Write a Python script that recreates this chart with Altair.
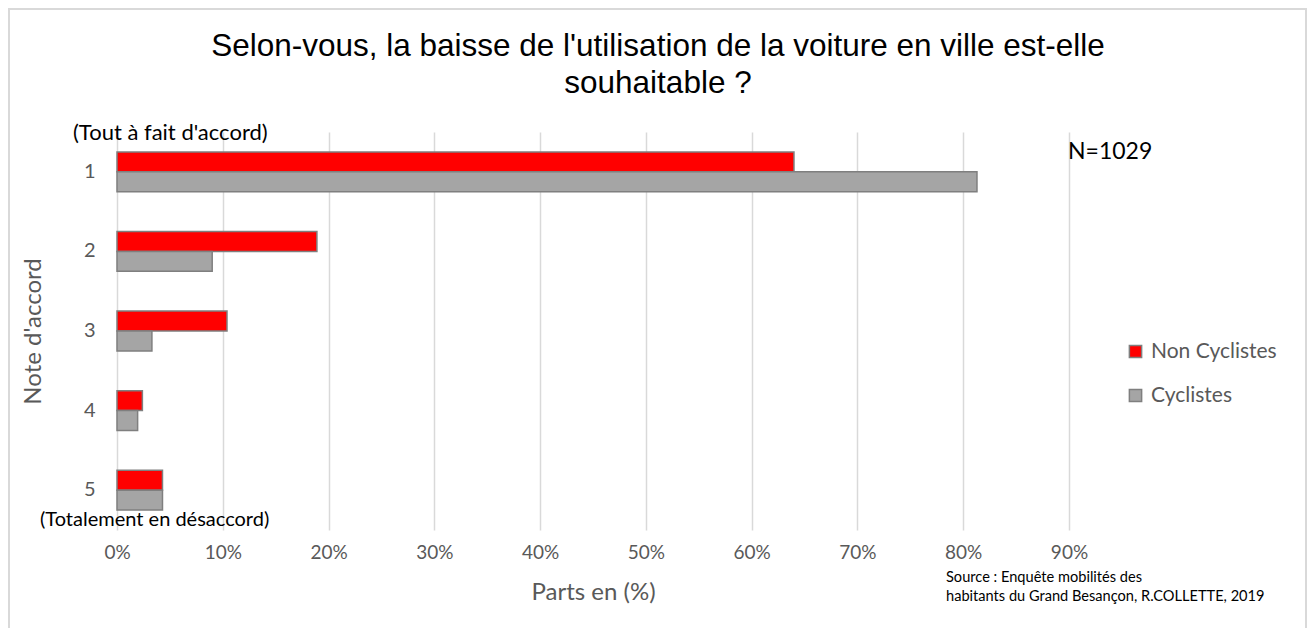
import altair as alt
import pandas as pd

notes = ["1", "2", "3", "4", "5"]
non_cyclistes = [64.0, 18.9, 10.4, 2.4, 4.3]
cyclistes = [81.3, 9.0, 3.3, 1.95, 4.3]
series = ["Non Cyclistes", "Cyclistes"]
colors = ["#FF0000", "#A5A5A5"]
x_ticks = [0, 10, 20, 30, 40, 50, 60, 70, 80, 90]

rows = []
for i, n in enumerate(notes):
    rows.append({"note": n, "serie": series[0], "part": non_cyclistes[i]})
    rows.append({"note": n, "serie": series[1], "part": cyclistes[i]})
df = pd.DataFrame(rows)

FONT = "Lato"
GRAY = "#595959"
W, H = 952, 398

bars = alt.Chart(df).mark_bar(stroke="#7f7f7f", strokeWidth=1.5).encode(
    x=alt.X("part:Q", scale=alt.Scale(domain=[0, 90], nice=False),
            axis=alt.Axis(values=x_ticks, labelExpr="datum.value + '%'",
                          title="Parts en (%)", grid=True, gridColor="#d9d9d9",
                          gridWidth=1.5, ticks=False, domain=False,
                          labelFlush=False,
                          labelFontSize=19, labelColor=GRAY, labelFont=FONT,
                          labelPadding=13, titleFontSize=24, titleColor=GRAY,
                          titleFont=FONT, titleFontWeight="normal",
                          titleY=62, titleBaseline="middle")),
    y=alt.Y("note:N", sort=notes,
            scale=alt.Scale(paddingInner=0.5, paddingOuter=0.25),
            axis=alt.Axis(title="Note d'accord", ticks=False, domain=False,
                          grid=False, labelFontSize=20, labelColor=GRAY,
                          labelFont=FONT, labelPadding=22,
                          titleFontSize=24, titleColor=GRAY, titleFont=FONT,
                          titleFontWeight="normal", titleX=-84, titleY=199,
                          titleAngle=270, titleBaseline="middle",
                          titleAlign="center")),
    yOffset=alt.YOffset("serie:N", sort=series),
    color=alt.Color("serie:N", sort=series,
                    scale=alt.Scale(domain=series, range=colors),
                    legend=alt.Legend(title=None, orient="none", legendX=1008,
                                      legendY=209, symbolType="square",
                                      symbolSize=150, symbolStrokeColor="#7f7f7f",
                                      symbolStrokeWidth=1.5, labelFontSize=21,
                                      labelColor=GRAY, labelFont=FONT,
                                      rowPadding=22, labelOffset=5)),
)

one = pd.DataFrame({"t": [0]})

def label(text, x, y, size, color="#000000", align="left", font=FONT):
    return alt.Chart(one).mark_text(text=text, align=align, baseline="middle",
                                    fontSize=size, color=color, font=font).encode(
        x=alt.value(x), y=alt.value(y))

title1 = label("Selon-vous, la baisse de l'utilisation de la voiture en ville est-elle",
               658 - 117, 47 - 132, 31.5, align="center", font="Liberation Sans")
title2 = label("souhaitable ?", 658 - 117, 84 - 132, 31.5, align="center",
               font="Liberation Sans")
top_lbl = label("(Tout à fait d'accord)", 73 - 117, 133 - 132, 22)
bot_lbl = label("(Totalement en désaccord)", 40 - 117, 520 - 132, 20)
n_lbl = label("N=1029", 1068 - 117, 152 - 132, 23)
src1 = label("Source : Enquête mobilités des", 946 - 117, 578 - 132, 14.6)
src2 = label("habitants du Grand Besançon, R.COLLETTE, 2019", 946 - 117, 597 - 132, 14.6)

border = alt.Chart(one).mark_rect(fill=None, stroke="#d9d9d9", strokeWidth=2).encode(
    x=alt.value(-108), x2=alt.value(1306 - 8 - 109), y=alt.value(-123),
    y2=alt.value(H + 120))

chart = alt.layer(border, bars, title1, title2, top_lbl, bot_lbl, n_lbl,
                  src1, src2).properties(
    width=W, height=H,
    autosize=alt.AutoSizeParams(type="none"),
    padding={"left": 109, "top": 124, "right": 238, "bottom": 98},
).configure(background="white").configure_view(stroke=None)

chart.save("out.html", embed_options={"renderer": "svg", "actions": False})
